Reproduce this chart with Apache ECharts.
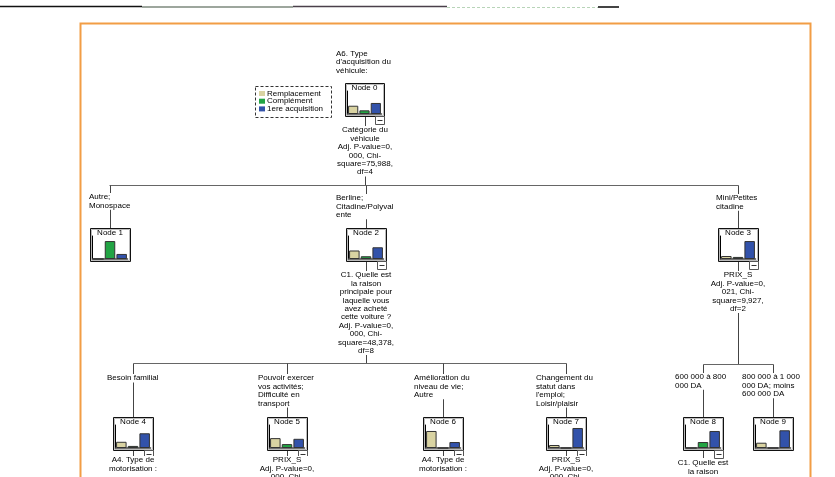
<!DOCTYPE html>
<html><head><meta charset="utf-8">
<script src="https://cdn.jsdelivr.net/npm/echarts@6/dist/echarts.min.js"></script>
<style>html,body{margin:0;padding:0;background:#fff}#c{width:835px;height:477px}</style>
</head><body><div id="c"></div>
<script>
// ---- data ----
const categories = ['Remplacement', 'Complément', '1ere acquisition'];
const nodeNames = ['Node 0','Node 1','Node 2','Node 3','Node 4','Node 5','Node 6','Node 7','Node 8','Node 9'];
const remplacement = [36, 0, 37, 13, 27, 43, 74, 13, 0, 23];
const complement   = [16, 78, 12, 9, 9, 17, 0, 0, 26, 0];
const premiere     = [48, 22, 51, 78, 64, 40, 26, 87, 74, 77];
const rootHeader = "A6. Type\nd'acquisition du\nvéhicule:";
const branchLabels = [
  '',
  'Autre;\nMonospace',
  'Berline;\nCitadine/Polyval\nente',
  'Mini/Petites\ncitadine',
  'Besoin familial',
  'Pouvoir exercer\nvos activités;\nDifficulté en\ntransport',
  'Amélioration du\nniveau de vie;\nAutre',
  "Changement du\nstatut dans\nl'emploi;\nLoisir/plaisir",
  '600 000 à 800\n000 DA',
  '800 000 à 1 000\n000 DA; moins\n600 000 DA'
];
const splitTexts = [
  'Catégorie du\nvéhicule\nAdj. P-value=0,\n000, Chi-\nsquare=75,988,\ndf=4',
  null,
  'C1. Quelle est\nla raison\nprincipale pour\nlaquelle vous\navez acheté\ncette voiture ?\nAdj. P-value=0,\n000, Chi-\nsquare=48,378,\ndf=8',
  'PRIX_S\nAdj. P-value=0,\n021, Chi-\nsquare=9,927,\ndf=2',
  'A4. Type de\nmotorisation :',
  'PRIX_S\nAdj. P-value=0,\n000, Chi-',
  'A4. Type de\nmotorisation :',
  'PRIX_S\nAdj. P-value=0,\n000, Chi-',
  'C1. Quelle est\nla raison',
  null
];

// ---- layout / style ----
const colors = ['#d9d3a2', '#22a444', '#3252aa'];
const FONT = 'Liberation Sans';
const boxes = [[345,83],[90,228],[346,228],[718,228],[113,417],[267,417],[423,417],[546,417],[683,417],[753,417]];
const labelPos = [null,[89,193],[336,194],[716,194],[107,374],[258,374],[414,374],[536,374],[675,373],[742,373]];
const splitTop = [126,null,271,271,456,456,456,456,459,null];
const BW = 40, BH = 33;

const graphics = [];
function line(x1,y1,x2,y2,color,w,dash,z){
  graphics.push({type:'line',z:z||1,silent:true,shape:{x1,y1,x2,y2},style:{stroke:color||'#555',lineWidth:w||1,lineDash:dash||null}});
}
function text(x,y,str,align,lh){
  graphics.push({type:'text',z:5,silent:true,x,y,style:{text:str,font:'8px "'+FONT+'"',fill:'#000',
    align:align||'left',verticalAlign:'top',lineHeight:lh||8.4,backgroundColor:'#fff'}});
}

// top decorative line
line(0,6.5,142,6.5,'#111',1.5);
line(142,7,293,7,'#7d887d',1.5);
line(293,6.5,447,6.5,'#4a404a',1.5);
line(447,7.5,598,7.5,'#b8d4b8',1,[3,2]);
line(598,7,619,7,'#444',2);

// orange frame
graphics.push({type:'rect',z:0,silent:true,shape:{x:80.5,y:23.5,width:730,height:470},style:{fill:null,stroke:'#f29d45',lineWidth:2}});

// connectors
const cx = i => boxes[i][0] + BW/2;
line(365.5,116,365.5,185.5,'#444');
line(109.5,185.5,738.5,185.5,'#666');
[1,2,3].forEach(i=>line(Math.round(cx(i))+0.5,185.5,Math.round(cx(i))+0.5,boxes[i][1],'#444'));
line(366.5,262,366.5,363.5,'#444');
line(738.5,262,738.5,364.5,'#444');
line(133.5,363.5,566.5,363.5,'#666');
line(703.5,364.5,773.5,364.5,'#666');
[4,5,6,7].forEach(i=>line(Math.round(cx(i))+0.5,363.5,Math.round(cx(i))+0.5,417,'#444'));
[8,9].forEach(i=>line(Math.round(cx(i))+0.5,364.5,Math.round(cx(i))+0.5,417,'#444'));
[4,5,6,7,8].forEach(i=>line(Math.round(cx(i))+0.5,450,Math.round(cx(i))+0.5,458,'#444'));

// header
text(336,49,rootHeader,'left',8.6);

// legend
graphics.push({type:'rect',z:2,silent:true,shape:{x:255.5,y:86.5,width:76,height:31},style:{fill:null,stroke:'#333',lineWidth:1,lineDash:[3,2]}});
categories.forEach((c,k)=>{
  const yy = 91 + k*7.7;
  graphics.push({type:'rect',z:3,silent:true,shape:{x:259,y:yy,width:6,height:5},style:{fill:colors[k]}});
  graphics.push({type:'text',z:3,silent:true,x:267,y:yy-1.5,style:{text:c,font:'8px "'+FONT+'"',fill:'#000',verticalAlign:'top'}});
});

// node boxes, titles, labels, split texts
const grids=[], xAxes=[], yAxes=[], series=[];
boxes.forEach(([bx,by],i)=>{
  const w = (i===0)?39:BW;
  graphics.push({type:'rect',z:2,silent:true,shape:{x:bx+0.5,y:by+0.5,width:w,height:BH},style:{fill:null,stroke:'#111',lineWidth:1}});
  graphics.push({type:'rect',z:2,silent:true,shape:{x:bx+1.5,y:by+1.5,width:w-2,height:BH-2},style:{fill:null,stroke:'#bbb',lineWidth:1}});
  graphics.push({type:'text',z:3,silent:true,x:bx+w/2,y:by+1,style:{text:nodeNames[i],font:'8px "'+FONT+'"',fill:'#000',align:'center',verticalAlign:'top'}});
  if (splitTexts[i] !== null) {
    graphics.push({type:'rect',z:3,silent:true,shape:{x:bx+w-8.5,y:by+BH+0.5,width:9,height:8},style:{fill:'#fff',stroke:'#555',lineWidth:1}});
    line(bx+w-6.5,by+BH+4.5,bx+w-1.5,by+BH+4.5,'#333',1,null,4);
    text(Math.round(bx+w/2),splitTop[i],splitTexts[i],'center');
  }
  if (labelPos[i]) text(labelPos[i][0],labelPos[i][1],branchLabels[i],'left');
  grids.push({left:bx+2.5,top:by+8,width:w-5,height:23,containLabel:false});
  xAxes.push({type:'category',gridIndex:i,data:categories,axisLine:{show:true,onZero:false,lineStyle:{color:'#444',width:1.5}},axisTick:{show:false},axisLabel:{show:false},splitLine:{show:false}});
  yAxes.push({type:'value',gridIndex:i,min:0,max:100,axisLine:{show:true,lineStyle:{color:'#000',width:1}},axisTick:{show:false},axisLabel:{show:false},splitLine:{show:false}});
  series.push({type:'bar',xAxisIndex:i,yAxisIndex:i,silent:true,barCategoryGap:'10%',
    data:[remplacement[i],complement[i],premiere[i]].map((v,k)=>({value:v,itemStyle:{color:colors[k]}})),
    itemStyle:{borderColor:'#333',borderWidth:1}});
});

const chart = echarts.init(document.getElementById('c'),null,{renderer:'canvas'});
chart.setOption({animation:false,backgroundColor:'#fff',grid:grids,xAxis:xAxes,yAxis:yAxes,series:series,graphic:{elements:graphics}});
</script></body></html>
